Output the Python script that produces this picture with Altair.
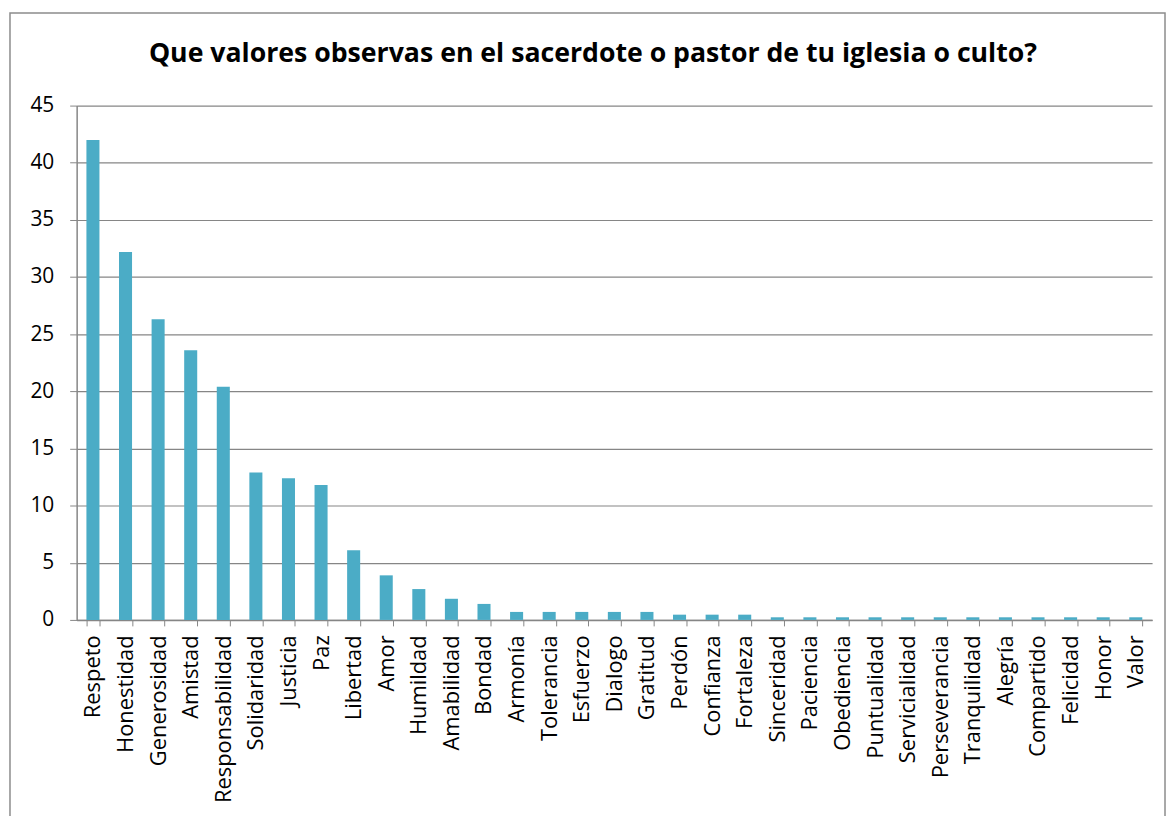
import altair as alt
import pandas as pd

categories = ["Respeto", "Honestidad", "Generosidad", "Amistad", "Responsabilidad",
              "Solidaridad", "Justicia", "Paz", "Libertad", "Amor", "Humildad",
              "Amabilidad", "Bondad", "Armonía", "Tolerancia", "Esfuerzo", "Dialogo",
              "Gratitud", "Perdón", "Confianza", "Fortaleza", "Sinceridad", "Paciencia",
              "Obediencia", "Puntualidad", "Servicialidad", "Perseverancia",
              "Tranquilidad", "Alegría", "Compartido", "Felicidad", "Honor", "Valor"]
values = [42.0, 32.2, 26.3, 23.6, 20.4, 12.9, 12.4, 11.8, 6.1, 3.9, 2.7,
          1.85, 1.4, 0.7, 0.7, 0.7, 0.7, 0.7, 0.46, 0.46, 0.46, 0.23, 0.23,
          0.23, 0.23, 0.23, 0.23, 0.23, 0.23, 0.23, 0.23, 0.23, 0.23]
y_ticks = [0, 5, 10, 15, 20, 25, 30, 35, 40, 45]
title_text = ["Que valores observas en el sacerdote o pastor de tu iglesia o culto?"]

df = pd.DataFrame({"valor": categories, "pct": values})
tdf = pd.DataFrame({"t": title_text})

FONT = "Open Sans"
GREY = "#868686"

bars = alt.Chart(df).mark_bar(color="#4BACC6").encode(
    x=alt.X("valor:N", sort=categories, title=None,
            scale=alt.Scale(paddingInner=0.6, paddingOuter=0.3),
            axis=alt.Axis(labelAngle=-90, labelFont=FONT, labelFontSize=22,
                          labelColor="#000000", labelPadding=9,
                          tickBand="extent", tickSize=6, tickColor=GREY,
                          domainColor=GREY, domainWidth=1.5, grid=False,
                          labelOverlap=False)),
    y=alt.Y("pct:Q", title=None,
            scale=alt.Scale(domain=[0, 45], nice=False),
            axis=alt.Axis(values=y_ticks, labelFont=FONT, labelFontSize=21,
                          labelColor="#000000", labelPadding=16,
                          tickSize=7, tickColor=GREY, domainColor=GREY,
                          domainWidth=1.5, gridColor=GREY, gridWidth=1.2)),
)

frame = alt.Chart(tdf).mark_rect(fill=None, stroke="#8c8c8c", strokeWidth=1.5,
                                 clip=False).encode(
    x=alt.value(-67), x2=alt.value(1094), y=alt.value(-93), y2=alt.value(740)
)

title = alt.Chart(tdf).mark_text(font=FONT, fontSize=26.8, fontWeight="bold",
                                 color="#000000", align="center",
                                 baseline="middle").encode(
    text="t:N", x=alt.value(519), y=alt.value(-52)
)

chart = alt.layer(bars, frame, title).properties(
    width=1081, height=517,
    autosize=alt.AutoSizeParams(type="none"),
    padding={"left": 69, "top": 96, "right": 14, "bottom": 195},
).configure_view(stroke=None)

chart.save("out.html", embed_options={"renderer": "svg", "actions": False})
